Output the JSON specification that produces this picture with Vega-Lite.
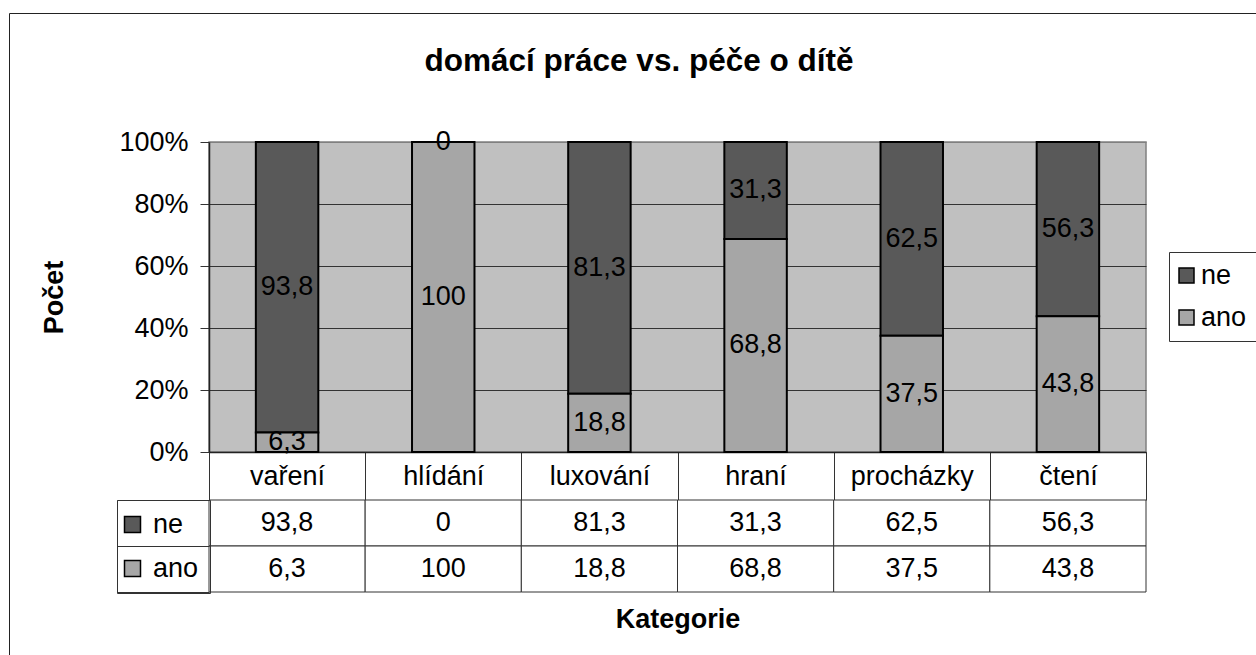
{
  "$schema": "https://vega.github.io/schema/vega-lite/v6.json",
  "width": 937,
  "height": 310,
  "autosize": {"type": "none"},
  "padding": {"left": 209, "top": 142, "right": 110, "bottom": 203},
  "background": "white",
  "title": {
    "text": "domácí práce vs. péče o dítě",
    "fontSize": 31.5,
    "fontWeight": "bold",
    "color": "black",
    "anchor": "middle",
    "frame": "group",
    "baseline": "alphabetic",
    "offset": -90,
    "dx": -38.5
  },
  "config": {
    "font": "Liberation Sans",
    "locale": {"number": {"decimal": ",", "thousands": " ", "grouping": [3], "currency": ["", " Kč"]}},
    "view": {"fill": "#c0c0c0", "stroke": "#808080", "strokeWidth": 1.5}
  },
  "data": {
    "values": [
      {"kategorie": "vaření", "serie": "ne", "hodnota": 93.8},
      {"kategorie": "vaření", "serie": "ano", "hodnota": 6.3},
      {"kategorie": "hlídání", "serie": "ne", "hodnota": 0},
      {"kategorie": "hlídání", "serie": "ano", "hodnota": 100},
      {"kategorie": "luxování", "serie": "ne", "hodnota": 81.3},
      {"kategorie": "luxování", "serie": "ano", "hodnota": 18.8},
      {"kategorie": "hraní", "serie": "ne", "hodnota": 31.3},
      {"kategorie": "hraní", "serie": "ano", "hodnota": 68.8},
      {"kategorie": "procházky", "serie": "ne", "hodnota": 62.5},
      {"kategorie": "procházky", "serie": "ano", "hodnota": 37.5},
      {"kategorie": "čtení", "serie": "ne", "hodnota": 56.3},
      {"kategorie": "čtení", "serie": "ano", "hodnota": 43.8}
    ]
  },
  "transform": [
    {"stack": "hodnota", "groupby": ["kategorie"], "sort": [{"field": "serie", "order": "ascending"}], "offset": "normalize", "as": ["y0", "y1"]},
    {"calculate": "(datum.y0 + datum.y1) / 2", "as": "ymid"}
  ],
  "encoding": {
    "x": {
      "field": "kategorie",
      "type": "nominal",
      "scale": {"domain": ["vaření", "hlídání", "luxování", "hraní", "procházky", "čtení"], "paddingInner": 0, "paddingOuter": 0},
      "axis": {
        "title": "Kategorie",
        "titleFontSize": 27,
        "titleFontWeight": "bold",
        "titleColor": "black",
        "titlePadding": 106,
        "labelFontSize": 27,
        "labelColor": "black",
        "labelPadding": -24,
        "labelBaseline": "middle",
        "labelAngle": 0,
        "labelOverlap": false,
        "tickBand": "extent",
        "tickSize": 48,
        "tickColor": "#333333",
        "tickWidth": 1,
        "domainColor": "#222222",
        "domainWidth": 1.5,
        "grid": false
      }
    }
  },
  "layer": [
    {
      "mark": {"type": "bar", "width": {"band": 0.4}, "stroke": "black", "strokeWidth": 2},
      "encoding": {
        "y": {
          "field": "y0",
          "type": "quantitative",
          "scale": {"domain": [0, 1], "nice": false},
          "axis": {
            "title": "Počet",
            "orient": "left",
            "values": [0, 0.2, 0.4, 0.6, 0.8, 1],
            "format": ".0%",
            "labelFontSize": 27,
            "labelColor": "black",
            "labelPadding": 12,
            "tickSize": 9,
            "tickColor": "#333333",
            "domainColor": "#222222",
            "domainWidth": 1.5,
            "grid": true,
            "gridColor": {"condition": {"test": "datum.value >= 1", "value": "#808080"}, "value": "#333333"},
            "gridWidth": 1,
            "titleFontSize": 27,
            "titleFontWeight": "bold",
            "titleColor": "black",
            "titlePadding": 50
          }
        },
        "y2": {"field": "y1"},
        "fill": {
          "field": "serie",
          "type": "nominal",
          "scale": {"domain": ["ne", "ano"], "range": ["#595959", "#a6a6a6"]},
          "legend": {
            "orient": "none",
            "legendX": 960,
            "legendY": 110,
            "title": null,
            "padding": 10,
            "rowPadding": 14,
            "strokeColor": "#333333",
            "fillColor": "white",
            "symbolType": "square",
            "symbolSize": 225,
            "symbolStrokeColor": "black",
            "symbolStrokeWidth": 1.5,
            "symbolOffset": -6,
            "labelFontSize": 27,
            "labelColor": "black",
            "labelOffset": 1
          }
        }
      }
    },
    {
      "mark": {"type": "text", "fontSize": 27, "color": "black"},
      "encoding": {
        "y": {"field": "ymid", "type": "quantitative", "scale": {"domain": [0, 1], "nice": false}, "axis": null},
        "text": {"field": "hodnota", "type": "quantitative", "format": ".1~f"}
      }
    },
    {
      "mark": {"type": "rect", "fill": "white", "stroke": "#333333", "strokeWidth": 1},
      "encoding": {
        "y": {
          "field": "serie",
          "type": "nominal",
          "scale": {"domain": ["ne", "ano"], "range": [358, 450], "paddingInner": 0, "paddingOuter": 0},
          "axis": {
            "orient": "left",
            "title": null,
            "labels": false,
            "domain": false,
            "grid": false,
            "ticks": true,
            "tickBand": "extent",
            "tickSize": 92,
            "tickColor": "#333333",
            "tickWidth": 1
          }
        }
      }
    },
    {
      "mark": {"type": "text", "fontSize": 27, "color": "black"},
      "encoding": {
        "y": {"field": "serie", "type": "nominal", "scale": {"domain": ["ne", "ano"], "range": [358, 450], "paddingInner": 0, "paddingOuter": 0}, "axis": null},
        "text": {"field": "hodnota", "type": "quantitative", "format": ".1~f"}
      }
    },
    {
      "mark": {"type": "square", "opacity": 0},
      "encoding": {
        "y": {"field": "serie", "type": "nominal", "scale": {"domain": ["ne", "ano"], "range": [358, 450], "paddingInner": 0, "paddingOuter": 0}, "axis": null},
        "color": {
          "field": "serie",
          "type": "nominal",
          "sort": "descending",
          "scale": {"range": ["#595959", "#a6a6a6"]},
          "legend": {
            "orient": "none",
            "legendX": -92,
            "legendY": 358,
            "title": null,
            "padding": 11,
            "rowPadding": 16,
            "strokeColor": "#333333",
            "symbolType": "square",
            "symbolSize": 256,
            "symbolStrokeColor": "black",
            "symbolStrokeWidth": 1.5,
            "symbolOpacity": 1,
            "symbolOffset": -9,
            "labelFontSize": 27,
            "labelColor": "black",
            "labelOffset": 7
          }
        },
        "strokeDash": {
          "field": "serie",
          "type": "nominal",
          "scale": {"domain": ["ano", "ne"]},
          "legend": {
            "orient": "none",
            "legendX": -200,
            "legendY": -129,
            "title": null,
            "padding": 1500,
            "strokeColor": "#222222",
            "labelExpr": "''",
            "symbolOpacity": 0,
            "encode": {"legend": {"update": {"strokeWidth": {"value": 2}}}}
          }
        }
      }
    }
  ],
  "resolve": {"scale": {"y": "independent"}, "axis": {"y": "independent"}}
}
